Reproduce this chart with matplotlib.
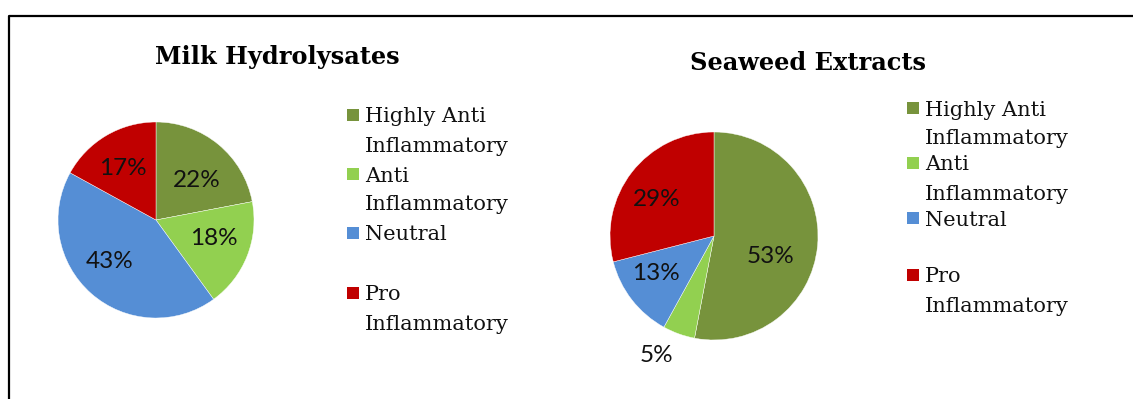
"""Inflammatory response breakdown for milk hydrolysates vs seaweed extracts."""

import numpy as np
import matplotlib.pyplot as plt
from matplotlib.patches import Rectangle

W, H = 1133, 399

categories = ["Highly Anti\nInflammatory", "Anti\nInflammatory", "Neutral", "Pro\nInflammatory"]
colors = ["#77933C", "#92D050", "#558ED5", "#C00000"]

milk_titles = "Milk Hydrolysates"
milk_share = [22, 18, 43, 17]

seaweed_title = "Seaweed Extracts"
seaweed_share = [53, 5, 13, 29]

SERIF = "DejaVu Serif"
SANS = "Lato"


def y(px):
    # work in image-style pixels, top-down
    return H - px


def draw_pie(ax, values, center, radius, dists, nudges):
    wedges, _ = ax.pie(values, colors=colors, startangle=90, counterclock=False,
                       center=(center[0], y(center[1])), radius=radius,
                       wedgeprops=dict(linewidth=0.3, edgecolor="white"))
    for w, v, d, n in zip(wedges, values, dists, nudges):
        ang = np.deg2rad((w.theta1 + w.theta2) / 2 + n)
        tx = center[0] + d * radius * np.cos(ang)
        ty = y(center[1]) + d * radius * np.sin(ang)
        ax.text(tx, ty, f"{v}%", ha="center", va="center", fontsize=17.5,
                family=SANS, color="#111111")


def draw_legend(ax, x0, rows, line_gap=29):
    for label, col, top in zip(categories, colors, rows):
        ax.add_patch(Rectangle((x0, y(top) - 6), 12, 12, facecolor=col, edgecolor="none"))
        for i, line in enumerate(label.split("\n")):
            ax.text(x0 + 18, y(top + i * line_gap), line, ha="left", va="center_baseline",
                    fontsize=15, family=SERIF, color="#111111")


fig = plt.figure(figsize=(W / 100, H / 100), dpi=100)
ax = fig.add_axes([0, 0, 1, 1])

ax.text(277, y(57), milk_titles, ha="center", va="center", fontsize=17.3,
        fontweight="bold", family=SERIF)
draw_pie(ax, milk_share, (156, 220), 98,
         dists=[0.58, 0.62, 0.64, 0.62], nudges=[-6, 4, -7, 2])
draw_legend(ax, 347, [115, 174, 233, 293])

ax.text(808, y(63), seaweed_title, ha="center", va="center", fontsize=17.3,
        fontweight="bold", family=SERIF)
draw_pie(ax, seaweed_share, (714, 236), 104,
         dists=[0.58, 1.28, 0.66, 0.65], nudges=[-14, -6, -5, 5])
draw_legend(ax, 907, [108, 163, 218, 275])

# frame around the chart area (top and left edges)
ax.plot([9, 9, W], [0, y(16), y(16)], color="black", lw=1.6, solid_capstyle="projecting")

# pie() resets the view, so pin the pixel grid last
ax.set_xlim(0, W)
ax.set_ylim(0, H)
ax.set_aspect("auto")
ax.axis("off")

fig.savefig("out.png", dpi=100)
